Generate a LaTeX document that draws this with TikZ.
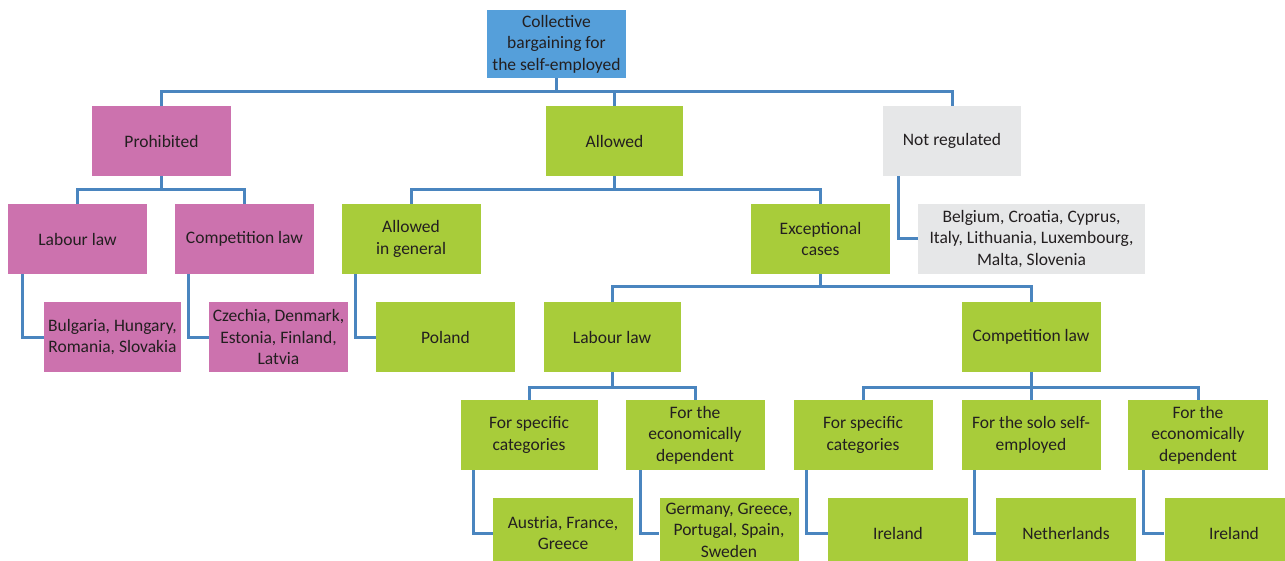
\documentclass[tikz,border=0pt]{standalone}
\usepackage{fontspec}
\setmainfont{Carlito}
\definecolor{rootblue}{HTML}{559FDA}
\definecolor{pinkc}{HTML}{CC72AE}
\definecolor{greenc}{HTML}{A8CC3A}
\definecolor{greyc}{HTML}{E6E7E8}
\definecolor{linec}{HTML}{4A85BF}
\definecolor{txt}{HTML}{231F20}
\tikzset{
  box/.style={rectangle, inner sep=0pt, minimum width=139pt, minimum height=70pt, align=center, text=txt, font=\fontsize{17.5}{21.5}\selectfont},
  rootbox/.style={box, fill=rootblue, minimum height=68pt},
  pinkbox/.style={box, fill=pinkc},
  greenbox/.style={box, fill=greenc},
  greybox/.style={box, fill=greyc},
  conn/.style={draw=linec, line width=3pt},
}
\begin{document}
\begin{tikzpicture}[x=1pt,y=-1pt]
\useasboundingbox (0,0) rectangle (1285,561);
% bus levels
\coordinate (b0) at (0,92);
\coordinate (b1) at (0,190);
\coordinate (b2) at (0,287);
\coordinate (b3) at (0,387);
% nodes
\node[rootbox] (root) at (556.5,44) {Collective\\bargaining for\\the self-employed};
\node[pinkbox] (prohib) at (161.5,141) {Prohibited};
\node[greenbox, minimum width=137pt] (allowed) at (614.5,141) {Allowed};
\node[greybox, minimum width=138pt] (notreg) at (952,141) {Not regulated};
\node[pinkbox] (ll1) at (77.5,239) {Labour law};
\node[pinkbox] (cl1) at (244.5,239) {Competition law};
\node[greenbox] (aig) at (411,239) {Allowed\\in general};
\node[greenbox] (exc) at (820.5,239) {Exceptional\\cases};
\node[greybox, minimum width=227pt] (belg) at (1031.5,239) {Belgium, Croatia, Cyprus,\\Italy, Lithuania, Luxembourg,\\Malta, Slovenia};
\node[pinkbox, minimum width=137pt] (bulg) at (112.5,337) {Bulgaria, Hungary,\\Romania, Slovakia};
\node[pinkbox] (czech) at (278.5,337) {Czechia, Denmark,\\Estonia, Finland,\\Latvia};
\node[greenbox] (poland) at (445.5,337) {Poland};
\node[greenbox, minimum width=137pt] (ll2) at (612,337) {Labour law};
\node[greenbox] (cl2) at (1031,337) {Competition law};
\node[greenbox, minimum width=137pt] (fsc1) at (529,435) {For specific\\categories};
\node[greenbox] (fed1) at (695,435) {For the\\economically\\dependent};
\node[greenbox] (fsc2) at (863,435) {For specific\\categories};
\node[greenbox] (solo) at (1031,435) {For the solo self-\\employed};
\node[greenbox, minimum width=140pt] (fed2) at (1198,435) {For the\\economically\\dependent};
\node[greenbox, minimum width=140pt] (aus) at (563,533) {Austria, France,\\Greece};
\node[greenbox, minimum height=64pt] (ger) at (729,530) {Germany, Greece,\\Portugal, Spain,\\Sweden};
\node[greenbox, minimum width=140pt] (irl1) at (898,533) {Ireland};
\node[greenbox, minimum width=140pt] (neth) at (1066,533) {Netherlands};
\node[greenbox] (irl2) at (1234,533) {Ireland};
% tree connectors
\draw[conn] (root.south) -- (root.south |- b0) -| (prohib.north);
\draw[conn] (root.south |- b0) -| (allowed.north);
\draw[conn] (root.south |- b0) -| (notreg.north);
\draw[conn] (prohib.south) -- (prohib.south |- b1) -| (ll1.north);
\draw[conn] (prohib.south |- b1) -| (cl1.north);
\draw[conn] (allowed.south) -- (allowed.south |- b1) -| (aig.north);
\draw[conn] (allowed.south |- b1) -| (exc.north);
\draw[conn] (exc.south) -- (exc.south |- b2) -| (ll2.north);
\draw[conn] (exc.south |- b2) -| (cl2.north);
\draw[conn] (ll2.south) -- (ll2.south |- b3) -| (fsc1.north);
\draw[conn] (ll2.south |- b3) -| (fed1.north);
\draw[conn] (cl2.south) -- (cl2.south |- b3) -| (fsc2.north);
\draw[conn] (cl2.south |- b3) -| (fed2.north);
\draw[conn] (cl2.south) -- (solo.north);
% elbow connectors
\draw[conn] ([xshift=16pt]notreg.south west) |- (belg.west);
\draw[conn] ([xshift=15pt]ll1.south west) |- (bulg.west);
\draw[conn] ([xshift=14pt]cl1.south west) |- (czech.west);
\draw[conn] ([xshift=14.5pt]aig.south west) |- (poland.west);
\draw[conn] ([xshift=13pt]fsc1.south west) |- (aus.west);
\draw[conn] ([xshift=15pt]fed1.south west) |- ([yshift=-3pt]ger.west);
\draw[conn] ([xshift=13.5pt]fsc2.south west) |- (irl1.west);
\draw[conn] ([xshift=13.5pt]solo.south west) |- (neth.west);
\draw[conn] ([xshift=16pt]fed2.south west) |- (irl2.west);
\end{tikzpicture}
\end{document}
